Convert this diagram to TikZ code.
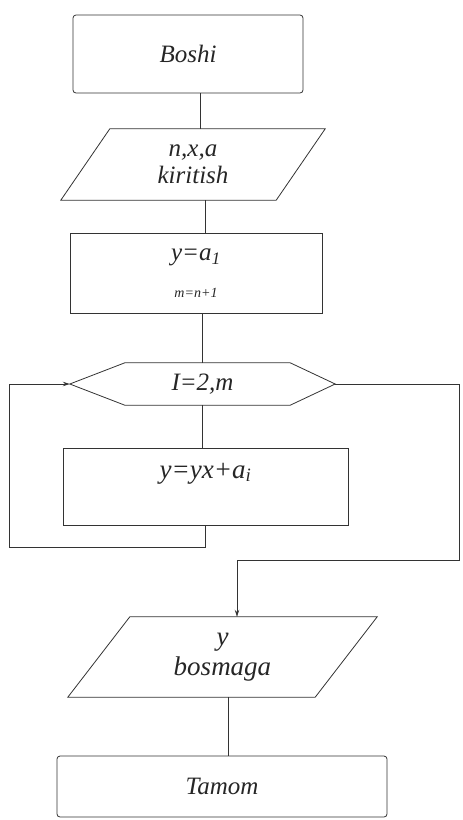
\documentclass[tikz,border=0pt]{standalone}
\usepackage{fontspec}
\setmainfont{Liberation Serif}
\usetikzlibrary{arrows.meta}
\begin{document}
\begin{tikzpicture}[x=1pt,y=-1pt,
  every node/.style={font=\itshape\fontsize{25}{27}\selectfont, text=black!85, inner sep=0pt},
  big/.style={font=\itshape\fontsize{27}{30}\selectfont},
  line/.style={draw=black!80, line width=0.8pt},
  term/.style={line, rounded corners=3pt},
  arr/.style={line, -{Stealth[length=7pt,width=4.5pt]}}]
\useasboundingbox (0,0) rectangle (463,820);

% nodes
\node[term, minimum width=230pt, minimum height=78pt] (start) at (188,54) {Boshi};
\node[minimum width=264pt, minimum height=71pt, align=center] (in) at (193,164.5) {n,x,a\\kiritish};
\node[line, minimum width=252pt, minimum height=80pt, align=center] (init) at (196,273)
  {y=a\textsubscript{1}\\[10pt]{\fontsize{14}{16}\selectfont m=n+1}};
\node[minimum width=265pt, minimum height=42pt] (loop) at (202.5,384) {I=2,m};
\node[line, big, minimum width=285pt, minimum height=77pt, text height=18pt, text depth=35pt] (body) at (205.5,486.5) {y=yx+a\textsubscript{i}};
\node[big, minimum width=309pt, minimum height=80pt, align=center] (out) at (222.5,657) {y\\bosmaga};
\node[term, minimum width=330pt, minimum height=61pt] (end) at (222,786.5) {Tamom};

% custom outlines
\draw[line] ([xshift=49pt]in.north west) -- (in.north east) -- ([xshift=-49pt]in.south east) -- (in.south west) -- cycle;
\draw[line] (loop.west) -- ([xshift=55pt]loop.north west) -- ([xshift=-45pt]loop.north east) -- (loop.east)
  -- ([xshift=-45pt]loop.south east) -- ([xshift=55pt]loop.south west) -- cycle;
\draw[line] ([xshift=62pt]out.north west) -- (out.north east) -- ([xshift=-62pt]out.south east) -- (out.south west) -- cycle;

% connectors
\draw[line] ([xshift=12pt]start.south) -- ([xshift=12pt]start.south |- in.north);
\draw[line] ([xshift=12pt]in.south) -- ([xshift=12pt]in.south |- init.north);
\draw[line] (init.south -| loop.north) -- (loop.north);
\draw[line] (loop.south) -- (loop.south |- body.north);
\draw[arr] ([xshift=-0.5pt]body.south) -- ++(0,22) -| ([xshift=-60pt]loop.west) -- (loop.west);
\coordinate (turn) at (459,560);
\coordinate (join) at (237,560);
\draw[arr] (loop.east) -| (turn) -- (join) -- (join |- out.north);
\draw[line] ([xshift=5.5pt]out.south) -- ([xshift=5.5pt]out.south |- end.north);
\end{tikzpicture}
\end{document}
